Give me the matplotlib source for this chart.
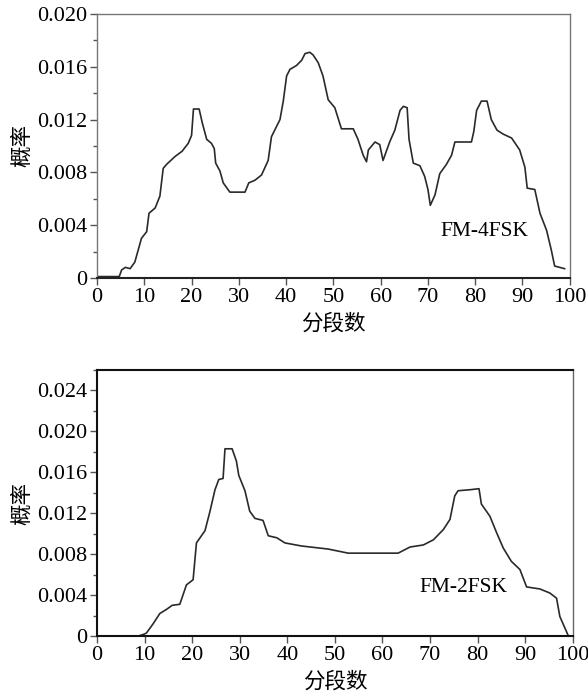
import matplotlib.pyplot as plt
from matplotlib.ticker import MultipleLocator, FuncFormatter

plt.rcParams['font.family'] = ['Liberation Serif', 'Noto Sans CJK SC']

# FM-4FSK curve (top)
x_4fsk = [0, 4.7, 5.2, 6.0, 7.0, 8.0, 8.7, 9.4, 10.5, 11.0, 12.3, 13.3, 14.0, 14.7,
          16.5, 18.0, 19.3, 20.0, 20.4, 21.6, 22.3, 23.2, 24.2, 24.8, 25.1, 26.0,
          26.7, 28.1, 31.3, 32.1, 33.4, 34.8, 36.2, 36.9, 38.7, 39.4, 40.1, 40.8,
          42.2, 43.3, 44.0, 45.0, 45.7, 46.8, 47.8, 48.9, 50.3, 51.7, 54.2, 55.2,
          56.3, 57.0, 57.4, 58.8, 59.8, 60.5, 61.9, 63.0, 64.1, 64.8, 65.6, 66.0,
          66.9, 68.3, 69.3, 70.0, 70.5, 71.5, 72.5, 73.9, 75.0, 75.7, 79.2, 79.7,
          80.3, 81.3, 82.5, 83.4, 84.6, 85.9, 87.7, 89.4, 90.5, 91.0, 92.6, 93.7,
          95.1, 96.1, 96.8, 98.9]
y_4fsk = [0.0001, 0.0001, 0.0006, 0.0008, 0.0007, 0.0012, 0.0021, 0.0030, 0.0035,
          0.0049, 0.0053, 0.0062, 0.0083, 0.0086, 0.0092, 0.0096, 0.0102, 0.0108,
          0.0128, 0.0128, 0.0117, 0.0105, 0.0102, 0.0098, 0.0087, 0.0081, 0.0072,
          0.0065, 0.0065, 0.0072, 0.0074, 0.0078, 0.0089, 0.0107, 0.0120, 0.0134,
          0.0153, 0.0158, 0.0161, 0.0165, 0.0170, 0.0171, 0.0169, 0.0163, 0.0153,
          0.0135, 0.0129, 0.0113, 0.0113, 0.0105, 0.0093, 0.0088, 0.0097, 0.0103,
          0.0101, 0.0089, 0.0103, 0.0112, 0.0127, 0.0130, 0.0129, 0.0105, 0.0087,
          0.0085, 0.0077, 0.0067, 0.0055, 0.0063, 0.0079, 0.0086, 0.0093, 0.0103,
          0.0103, 0.0111, 0.0127, 0.0134, 0.0134, 0.0120, 0.0112, 0.0109, 0.0106,
          0.0097, 0.0084, 0.0068, 0.0067, 0.0049, 0.0036, 0.0021, 0.0009, 0.0007]

# FM-2FSK curve (bottom)
x_2fsk = [0, 8.7, 10.0, 10.4, 11.8, 13.2, 14.6, 15.8, 17.4, 18.8, 20.2, 20.9, 22.7,
          23.7, 24.8, 25.6, 26.5, 26.9, 28.4, 29.3, 29.8, 31.1, 32.1, 33.2, 34.9,
          36.0, 37.8, 39.5, 43.0, 48.6, 52.8, 63.3, 65.8, 68.6, 70.7, 72.8, 74.2,
          75.2, 75.9, 78.4, 80.3, 80.8, 82.6, 84.0, 85.4, 87.1, 88.9, 90.3, 93.1,
          95.2, 96.6, 97.3, 99.0]
y_2fsk = [0.0, 0.0, 0.0002, 0.0003, 0.0012, 0.0022, 0.0026, 0.0030, 0.0031, 0.0050,
          0.0055, 0.0091, 0.0103, 0.0121, 0.0143, 0.0153, 0.0154, 0.0183, 0.0183,
          0.0171, 0.0157, 0.0142, 0.0122, 0.0115, 0.0113, 0.0098, 0.0096, 0.0091,
          0.0088, 0.0085, 0.0081, 0.0081, 0.0087, 0.0089, 0.0094, 0.0104, 0.0114,
          0.0137, 0.0142, 0.0143, 0.0144, 0.0129, 0.0117, 0.0101, 0.0086, 0.0073,
          0.0065, 0.0048, 0.0046, 0.0042, 0.0037, 0.0019, 0.0001]


def fmt_y(v, pos):
    if abs(v) < 1e-9:
        return '0'
    return '%.3f' % v


def style_axes(ax, ymax):
    ax.set_xlim(0, 100)
    ax.set_ylim(0, ymax)
    ax.xaxis.set_major_locator(MultipleLocator(10))
    ax.yaxis.set_major_locator(MultipleLocator(0.004))
    ax.yaxis.set_minor_locator(MultipleLocator(0.002))
    ax.yaxis.set_major_formatter(FuncFormatter(fmt_y))
    ax.tick_params(axis='both', which='major', direction='out', length=5,
                   width=1, color='#555555', labelsize=16, pad=2)
    ax.tick_params(axis='y', which='minor', direction='out', length=3,
                   width=1, color='#555555')
    ax.set_ylabel('概率', fontsize=15.5, family=['Noto Sans CJK SC'], labelpad=3)
    ax.set_xlabel('分段数', fontsize=15.5, family=['Noto Sans CJK SC'], labelpad=4)


fig = plt.figure(figsize=(5.88, 7.0), dpi=100)

ax1 = fig.add_axes([0.165, 0.603, 0.804, 0.377])
ax1.plot(x_4fsk, y_4fsk, color='#2a2a2a', lw=1.2)
style_axes(ax1, 0.020)
for s in ['left', 'right', 'top']:
    ax1.spines[s].set_color('#777777')
    ax1.spines[s].set_linewidth(1.0)
ax1.spines['bottom'].set_color('#222222')
ax1.spines['bottom'].set_linewidth(1.5)
ax1.text(82, 0.0035, 'FM-4FSK', fontsize=15.5, ha='center', va='center')

ax2 = fig.add_axes([0.165, 0.0914, 0.809, 0.38])
ax2.plot(x_2fsk, y_2fsk, color='#2a2a2a', lw=1.2)
style_axes(ax2, 0.026)
for s in ['left', 'top', 'bottom']:
    ax2.spines[s].set_color('#111111')
    ax2.spines[s].set_linewidth(1.5)
ax2.spines['right'].set_color('#666666')
ax2.spines['right'].set_linewidth(1.0)
ax2.text(77, 0.0047, 'FM-2FSK', fontsize=15.5, ha='center', va='center')

fig.savefig('out.png', dpi=100)
